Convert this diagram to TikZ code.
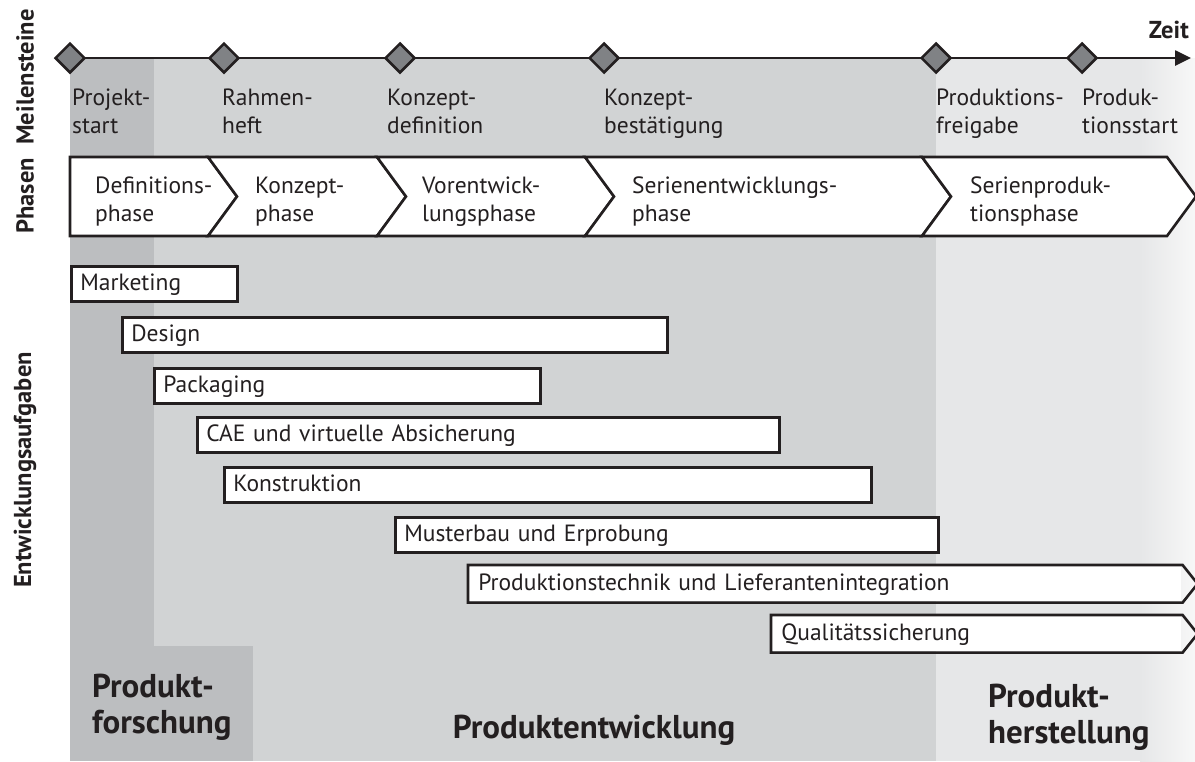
\documentclass[tikz,border=0pt]{standalone}
\usepackage{fontspec}
\setmainfont{PT Sans}
\usetikzlibrary{shapes.geometric,arrows.meta}

\definecolor{ink}{HTML}{231F20}
\definecolor{forschung}{HTML}{BCBEC0}
\definecolor{entwicklung}{HTML}{D1D3D4}
\definecolor{herstellung}{HTML}{E6E7E8}
\definecolor{stone}{HTML}{808285}

\tikzset{
  txt/.style={font=\fontsize{23.5}{28}\selectfont, text=ink, inner sep=0pt, align=left},
  sidelabel/.style={font=\fontsize{24.5}{28}\selectfont\bfseries, text=ink, rotate=90, inner sep=0pt},
  arealabel/.style={font=\fontsize{33}{36}\selectfont\bfseries, text=ink, inner sep=0pt, align=left},
  stone/.style={diamond, draw=ink, fill=stone, line width=2.5pt, minimum size=30pt, inner sep=0pt},
  phasebox/.style={draw=ink, fill=white, line width=2.6pt, line join=miter},
  task/.style={txt, draw=ink, fill=white, line width=2.6pt, anchor=north west,
    minimum height=35pt, text height=18pt, text depth=5pt, inner xsep=9pt},
}

\begin{document}
\begin{tikzpicture}[x=1pt,y=-1pt]
\useasboundingbox (0,0) rectangle (1195,761);

% bereiche
\fill[herstellung] (936,58) rectangle (1195,761);
\shade[left color=herstellung, right color=white!97!black] (1140,58) rectangle (1195,761);
\fill[entwicklung] (154,58) rectangle (936,761);
\fill[forschung] (70,58) rectangle (154,761);
\fill[forschung] (154,646) rectangle (253,761);

% meilensteine
\coordinate (tstart) at (70,58);
\coordinate (tend) at (1191,58);
\draw[ink, line width=2.6pt, -{Triangle[length=16pt,width=15pt]}] (tstart) -- (tend);
\foreach \x/\nm in {70/m1, 224/m2, 400/m3, 604/m4, 936/m5, 1082/m6}
  \node[stone] (\nm) at (\x,58) {};
\node[txt, anchor=base west] (l1) at (72,133) {Projekt-\\start};
\node[txt, anchor=base west] (l2) at (222,133) {Rahmen-\\heft};
\node[txt, anchor=base west] (l3) at (387,133) {Konzept-\\definition};
\node[txt, anchor=base west] (l4) at (604,133) {Konzept-\\bestätigung};
\node[txt, anchor=base west] (l5) at (936,133) {Produktions-\\freigabe};
\node[txt, anchor=base west] (l6) at (1082,133) {Produk-\\tionsstart};
\node[font=\fontsize{24.5}{28}\selectfont\bfseries, text=ink, inner sep=0pt, anchor=base east] (zeit) at (1189,38) {Zeit};

% phasen
\foreach \xl/\xr/\d/\tx/\nm/\t in {
    70/208/0/95/p1/{Definitions-\\phase},
    208/377/29/255/p2/{Konzept-\\phase},
    377/585/29/422/p3/{Vorentwick-\\lungsphase},
    585/922/29/632/p4/{Serienentwicklungs-\\phase},
    922/1167/29/970/p5/{Serienproduk-\\tionsphase}}{
  \path[phasebox] (\xl,157) -- (\xr,157) -- (\xr+29,196.5) -- (\xr,236)
    -- (\xl,236) -- (\xl+\d,196.5) -- cycle;
  \node[txt, anchor=base west] (\nm) at (\tx,221) {\t};
}

% aufgaben
\foreach \x/\y/\w/\nm/\t in {
    70/265/166/t1/Marketing,
    121/316/545/t2/Design,
    153/367/386/t3/Packaging,
    196/416/582/t4/CAE und virtuelle Absicherung,
    223/466/647/t5/Konstruktion,
    394/516/543/t6/Musterbau und Erprobung}{
  \pgfmathsetmacro\tw{\w-18}
  \node[task, text width=\tw pt] (\nm) at (\x,\y) {\t};
}
\foreach \x/\y/\w/\nm/\t in {
    468/565/712/t7/Produktionstechnik und Lieferantenintegration,
    771/615/409/t8/Qualitätssicherung}{
  \pgfmathsetmacro\tw{\w-18}
  \node[task, draw=none, text width=\tw pt] (\nm) at (\x,\y) {\t};
  \draw[ink, line width=2.6pt] (\nm.north west) -- (\nm.north east) -- ([xshift=15pt]\nm.east)
    -- (\nm.south east) -- (\nm.south west) -- cycle;
}

% beschriftung
\node[sidelabel] (s1) at (25,77) {Meilensteine};
\node[sidelabel] (s2) at (25,196) {Phasen};
\node[sidelabel] (s3) at (25,470) {Entwicklungsaufgaben};
\node[arealabel, anchor=base west] (a1) at (92,733) {Produkt-\\forschung};
\node[arealabel, anchor=base] (a2) at (594,738) {Produktentwicklung};
\node[arealabel, anchor=base west] (a3) at (988,743) {Produkt-\\herstellung};
\end{tikzpicture}
\end{document}
